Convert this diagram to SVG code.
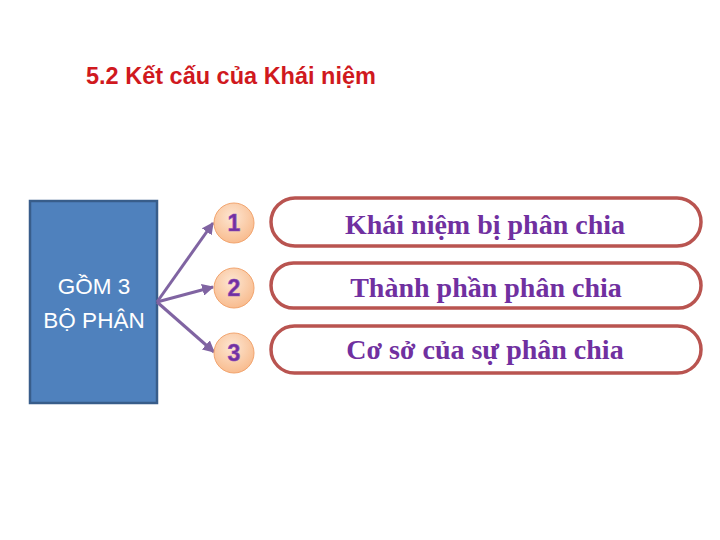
<svg xmlns="http://www.w3.org/2000/svg" width="720" height="540" viewBox="0 0 720 540">
<defs>
<radialGradient id="peach" cx="0.45" cy="0.35" r="0.7">
<stop offset="0" stop-color="#FDE6D2"/>
<stop offset="1" stop-color="#F8B98A"/>
</radialGradient>
<marker id="arr" viewBox="0 0 10 10" refX="9" refY="5" markerWidth="4" markerHeight="4" orient="auto">
<path d="M0,0 L10,5 L0,10 z" fill="#8064A2"/>
</marker>
<style>
.num{font-family:"Liberation Sans",Arial,sans-serif;font-weight:bold;font-size:23px;fill:#7030A0;stroke:#8E4FB8;stroke-width:0.6;text-anchor:middle}
.circ{fill:url(#peach);stroke:#F2A46E;stroke-width:1}
.pill{fill:#FFFFFF;stroke:#B95450;stroke-width:3.5}
.ptxt{font-family:"Liberation Serif","Times New Roman",serif;font-weight:bold;font-size:28px;fill:#7030A0;text-anchor:middle}
.conn{stroke:#8064A2;stroke-width:3;fill:none;marker-end:url(#arr)}
</style>
</defs>
<rect width="720" height="540" fill="#FFFFFF"/>
<text x="86" y="84" font-family="'Liberation Sans',Arial,sans-serif" font-weight="bold" font-size="23.5" fill="#D0191E">5.2 Kết cấu của Khái niệm</text>
<g id="box">
<rect x="30" y="201" width="127" height="202" fill="#4F81BD" stroke="#385D8A" stroke-width="2.5"/>
<text x="94" y="294" font-family="'Liberation Sans',Arial,sans-serif" font-size="22.5" fill="#FFFFFF" text-anchor="middle">GỒM 3</text>
<text x="94" y="328" font-family="'Liberation Sans',Arial,sans-serif" font-size="22.5" fill="#FFFFFF" text-anchor="middle">BỘ PHẬN</text>
</g>
<g id="connectors">
<line class="conn" x1="157" y1="302" x2="213" y2="223"/>
<line class="conn" x1="157" y1="302" x2="213" y2="287"/>
<line class="conn" x1="157" y1="302" x2="214" y2="352"/>
</g>
<g id="n1">
<circle class="circ" cx="234" cy="223" r="20"/>
<text class="num" x="234" y="231">1</text>
</g>
<g id="n2">
<circle class="circ" cx="234" cy="288" r="20"/>
<text class="num" x="234" y="296">2</text>
</g>
<g id="n3">
<circle class="circ" cx="234" cy="353" r="20"/>
<text class="num" x="234" y="361">3</text>
</g>
<g id="p1">
<rect class="pill" x="271" y="198" width="430" height="48" rx="24"/>
<text class="ptxt" x="485" y="234">Khái niệm bị phân chia</text>
</g>
<g id="p2">
<rect class="pill" x="271" y="263" width="430" height="45" rx="22.5"/>
<text class="ptxt" x="486" y="297">Thành phần phân chia</text>
</g>
<g id="p3">
<rect class="pill" x="271" y="326" width="430" height="47" rx="23.5"/>
<text class="ptxt" x="485" y="359">Cơ sở của sự phân chia</text>
</g>
</svg>
